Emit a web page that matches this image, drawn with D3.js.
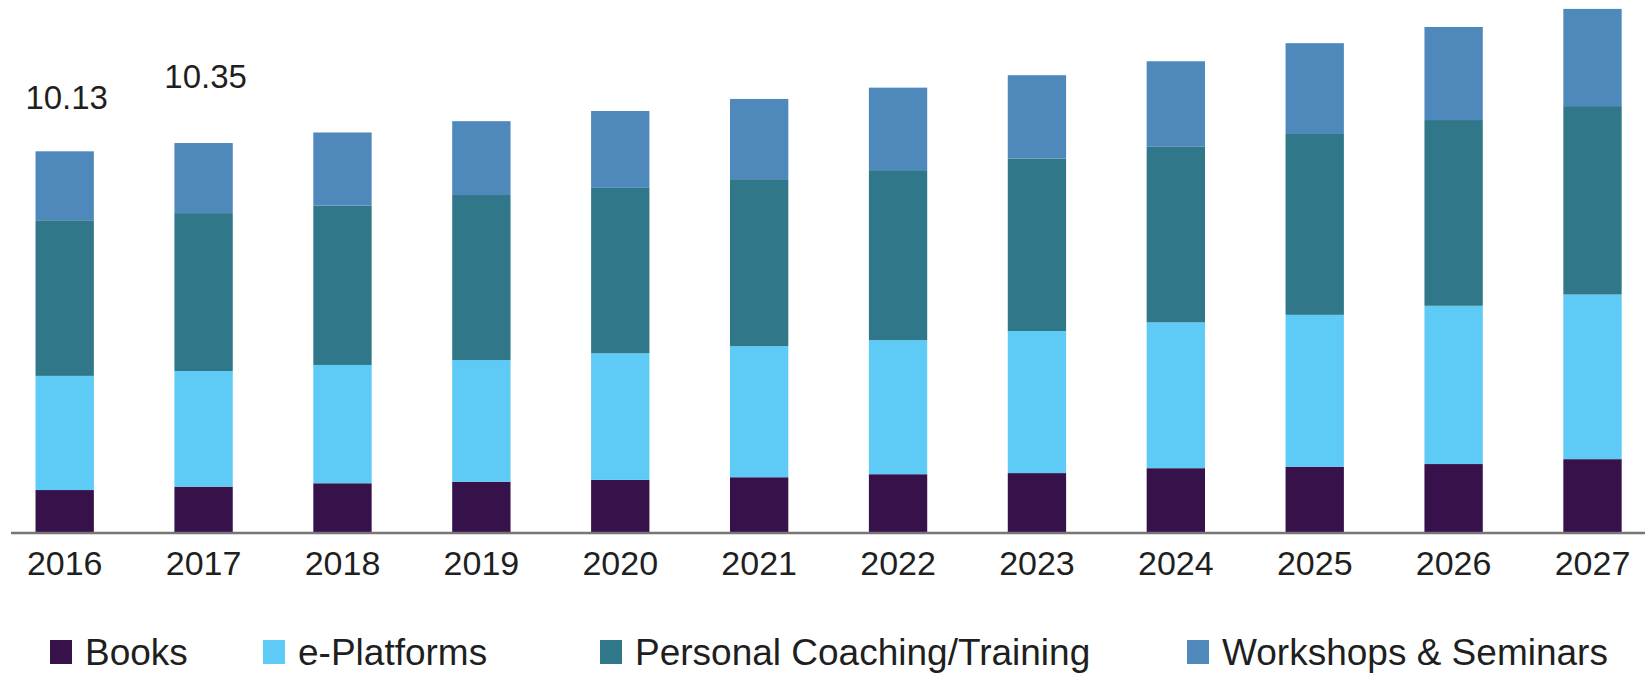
<!DOCTYPE html>
<html>
<head>
<meta charset="utf-8">
<script src="https://cdn.jsdelivr.net/npm/d3@7"></script>
<style>
  body { margin: 0; background: #fff; }
  text { font-family: "Liberation Sans", Arial, sans-serif; fill: #1f1f1f; }
</style>
</head>
<body>
<div id="chart"></div>
<script>
// Data (USD billion, stacked)
const years = ["2016", "2017", "2018", "2019", "2020", "2021", "2022", "2023", "2024", "2025", "2026", "2027"];
const books = [1.14, 1.23, 1.32, 1.36, 1.41, 1.48, 1.56, 1.59, 1.72, 1.76, 1.83, 1.96];
const ePlatforms = [3.03, 3.07, 3.14, 3.23, 3.36, 3.48, 3.56, 3.77, 3.87, 4.03, 4.20, 4.37];
const coaching = [4.13, 4.19, 4.23, 4.38, 4.39, 4.43, 4.51, 4.58, 4.66, 4.80, 4.93, 5.00];
const workshops = [1.83, 1.86, 1.94, 1.96, 2.04, 2.13, 2.19, 2.21, 2.27, 2.41, 2.47, 2.58];
const seriesNames = ["Books", "e-Platforms", "Personal Coaching/Training", "Workshops & Seminars"];
const labelYears = ["2016", "2017"];
const labelValues = ["10.13", "10.35"];

const colors = ["#37124a", "#5ecaf6", "#307889", "#4f89bb"];

const width = 1645;
const height = 677;
const axisY = 533;

const svg = d3.select("#chart")
    .append("svg")
    .attr("width", width)
    .attr("height", height);

// build rows for the stack
const keys = ["books", "ePlatforms", "coaching", "workshops"];
const rows = years.map((y, i) => ({
    year: y,
    books: books[i],
    ePlatforms: ePlatforms[i],
    coaching: coaching[i],
    workshops: workshops[i]
}));
const stacked = d3.stack().keys(keys)(rows);

const xScale = d3.scaleBand()
    .domain(years)
    .range([-4.75, 1661.95])
    .paddingInner(0.58)
    .paddingOuter(0.29);

const yScale = d3.scaleLinear()
    .domain([0, 14.146])
    .range([axisY, 0]);

const colorScale = d3.scaleOrdinal().domain(keys).range(colors);

// stacked bars
svg.append("g")
    .selectAll("g")
    .data(stacked)
    .enter()
    .append("g")
    .attr("fill", d => colorScale(d.key))
    .selectAll("rect")
    .data(d => d)
    .enter()
    .append("rect")
    .attr("x", d => xScale(d.data.year))
    .attr("y", d => yScale(d[1]))
    .attr("width", xScale.bandwidth())
    .attr("height", d => yScale(d[0]) - yScale(d[1]));

// x axis
const xAxis = svg.append("g")
    .attr("transform", `translate(0, ${axisY})`)
    .call(d3.axisBottom(xScale).tickSize(0));
xAxis.select(".domain").remove();
xAxis.selectAll("text")
    .attr("y", 42)
    .attr("dy", 0)
    .style("font-size", "34px")
    .style("font-family", "'Liberation Sans', Arial, sans-serif")
    .attr("fill", "#1f1f1f");

svg.append("line")
    .attr("x1", 11)
    .attr("x2", width)
    .attr("y1", axisY)
    .attr("y2", axisY)
    .attr("stroke", "#767676")
    .attr("stroke-width", 2.5);

// total labels on the first two bars
const labelOffsets = [42, 55];
svg.selectAll(".total-label")
    .data(labelYears)
    .enter()
    .append("text")
    .attr("class", "total-label")
    .attr("x", d => xScale(d) + xScale.bandwidth() / 2 + 2)
    .attr("y", (d, i) => yScale(+labelValues[i]) - labelOffsets[i])
    .attr("text-anchor", "middle")
    .style("font-size", "33px")
    .text((d, i) => labelValues[i]);

// legend
const legendX = [50, 263, 600, 1187];
const legend = svg.append("g")
    .selectAll("g")
    .data(seriesNames)
    .enter()
    .append("g")
    .attr("transform", (d, i) => `translate(${legendX[i]}, 640)`);

legend.append("rect")
    .attr("width", 22)
    .attr("height", 24)
    .attr("fill", (d, i) => colors[i]);

legend.append("text")
    .attr("x", 35)
    .attr("y", 25)
    .style("font-size", "37px")
    .text(d => d);
</script>
</body>
</html>
